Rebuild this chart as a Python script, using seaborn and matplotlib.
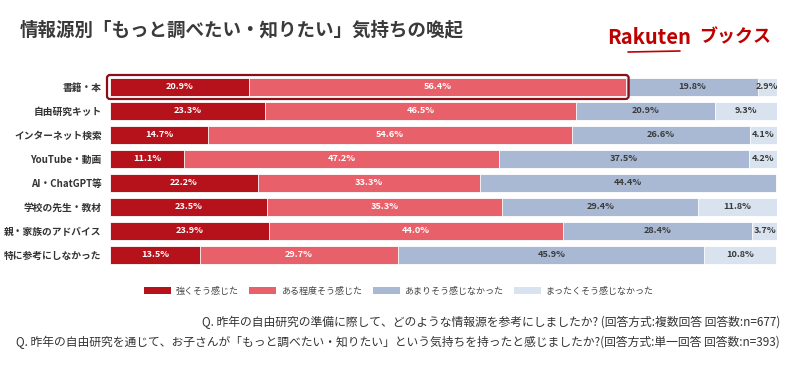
import matplotlib
matplotlib.use("Agg")
import matplotlib.pyplot as plt
import numpy as np
import seaborn as sns
from matplotlib.patches import Patch, FancyBboxPatch

sns.set_style('white')
plt.rcParams['font.family'] = ['Noto Sans CJK JP', 'DejaVu Sans']

categories = ['書籍・本', '自由研究キット', 'インターネット検索', 'YouTube・動画',
              'AI・ChatGPT等', '学校の先生・教材', '親・家族のアドバイス', '特に参考にしなかった']
strong = [20.9, 23.3, 14.7, 11.1, 22.2, 23.5, 23.9, 13.5]
somewhat = [56.4, 46.5, 54.6, 47.2, 33.3, 35.3, 44.0, 29.7]
not_much = [19.8, 20.9, 26.6, 37.5, 44.4, 29.4, 28.4, 45.9]
not_at_all = [2.9, 9.3, 4.1, 4.2, 0.0, 11.8, 3.7, 10.8]

series_names = ['強くそう感じた', 'ある程度そう感じた', 'あまりそう感じなかった', 'まったくそう感じなかった']
colors = ['#b5121b', '#e8606a', '#a9b9d3', '#d9e3ef']
label_colors = ['white', 'white', '#3a3a3a', '#3a3a3a']

title = '情報源別「もっと調べたい・知りたい」気持ちの喚起'
note1 = 'Q. 昨年の自由研究の準備に際して、どのような情報源を参考にしましたか? (回答方式:複数回答 回答数:n=677)'
note2 = 'Q. 昨年の自由研究を通じて、お子さんが「もっと調べたい・知りたい」という気持ちを持ったと感じましたか?(回答方式:単一回答 回答数:n=393)'

values = np.array([strong, somewhat, not_much, not_at_all])
cum = np.cumsum(values, axis=0)

fig = plt.figure(figsize=(8, 3.66), dpi=100)
ax = fig.add_axes([0.1375, 0.2705, 0.8338, 0.5246])

# draw widest first so the narrower layers sit on top
for i in range(3, -1, -1):
    sns.barplot(x=cum[i], y=categories, color=colors[i], width=0.75, orient='h',
                edgecolor='white', linewidth=0.6, saturation=1, ax=ax)

for i in range(4):
    left = cum[i] - values[i]
    for j, v in enumerate(values[i]):
        if v <= 0:
            continue
        ax.text(left[j] + v / 2, j, f'{v:.1f}%', ha='center', va='center',
                fontsize=6.6, fontweight='bold', color=label_colors[i])

# highlight box around the first row
box_w = cum[1][0]
ax.add_patch(FancyBboxPatch((-0.45, -0.5), box_w + 0.9, 1.0,
                            boxstyle='round,pad=0,rounding_size=0.45', mutation_aspect=0.28,
                            fill=False, edgecolor='#8b0f16', linewidth=1.6, clip_on=False, zorder=5))

ax.set_xlim(0, 100)
ax.set_ylim(7.5, -0.5)
ax.set_xlabel('')
ax.set_ylabel('')
ax.set_xticks([])
ax.tick_params(axis='y', length=0, pad=6, labelsize=7)
for lab in ax.get_yticklabels():
    lab.set_fontweight('bold')
    lab.set_color('#333333')
sns.despine(ax=ax, left=True, bottom=True)

handles = [Patch(facecolor=c, edgecolor='none') for c in colors]
fig.legend(handles, series_names, loc='center', bbox_to_anchor=(0.4985, 1 - 291 / 366),
           ncol=4, frameon=False, fontsize=6.5, handlelength=3.0, handleheight=0.9,
           handletextpad=0.5, columnspacing=1.2, labelcolor='#444444')

fig.text(0.025, 1 - 30 / 366, title, fontsize=13.3, fontweight='bold', color='#3a3a3a',
         ha='left', va='center')
fig.text(0.759, 1 - 37 / 366, 'Rakuten', fontsize=14.5, fontweight='bold', color='#bf0000',
         ha='left', va='center')
fig.text(0.874, 1 - 37 / 366, 'ブックス', fontsize=13, fontweight='bold', color='#bf0000',
         ha='left', va='center')
fig.add_artist(plt.Line2D([0.785, 0.85], [1 - 52 / 366, 1 - 51 / 366], color='#bf0000',
                          linewidth=1.2, transform=fig.transFigure))

fig.text(0.975, 1 - 322 / 366, note1, fontsize=8.5, color='#333333', ha='right', va='center')
fig.text(0.975, 1 - 342 / 366, note2, fontsize=8.5, color='#333333', ha='right', va='center')

fig.savefig('out.png', dpi=100)
